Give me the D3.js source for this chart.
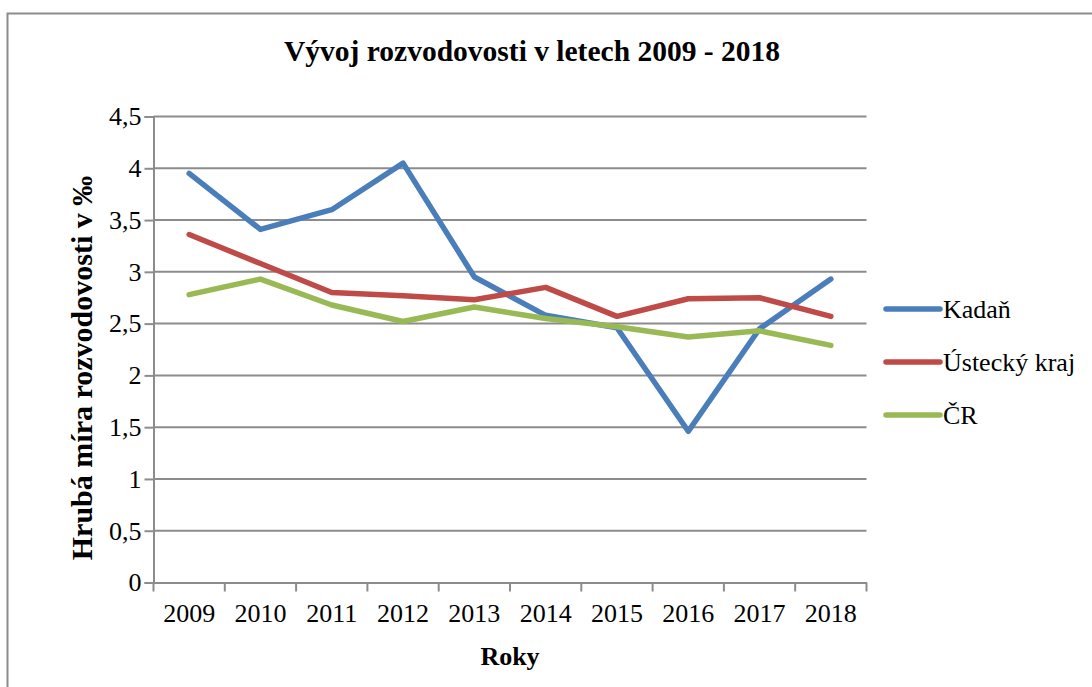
<!DOCTYPE html>
<html lang="cs">
<head>
<meta charset="UTF-8">
<title>Vývoj rozvodovosti v letech 2009 - 2018</title>
<script src="https://cdnjs.cloudflare.com/ajax/libs/d3/7.8.5/d3.min.js"></script>
<style>
    body { margin: 0; padding: 0; background: #fff; }
    svg text { font-family: "Liberation Serif", "DejaVu Serif", serif !important; fill: #000; }
</style>
</head>
<body>
<div id="chart"></div>
<script>
    // data
    const years = ["2009", "2010", "2011", "2012", "2013", "2014", "2015", "2016", "2017", "2018"];
    const kadan = [3.95, 3.41, 3.60, 4.05, 2.95, 2.58, 2.46, 1.46, 2.45, 2.93];
    const ustecky = [3.36, 3.08, 2.80, 2.77, 2.73, 2.85, 2.57, 2.74, 2.75, 2.57];
    const cr = [2.78, 2.93, 2.68, 2.52, 2.66, 2.55, 2.47, 2.37, 2.43, 2.29];
    const yTicks = [0, 0.5, 1, 1.5, 2, 2.5, 3, 3.5, 4, 4.5];

    const series = [
        { name: "Kadaň", values: kadan, color: "#4a7ebb" },
        { name: "Ústecký kraj", values: ustecky, color: "#be4b48" },
        { name: "ČR", values: cr, color: "#98b954" }
    ];

    const width = 1092, height = 687;
    const plot = { left: 153.5, right: 866.5, top: 116.5, bottom: 582.5 };

    const svg = d3.select("#chart").append("svg")
        .attr("width", width)
        .attr("height", height)
        .style("display", "block");

    // outer frame, runs off the right and bottom edge
    svg.append("rect")
        .attr("x", 7.5).attr("y", 13.5)
        .attr("width", 1100).attr("height", 700)
        .attr("fill", "#fff")
        .attr("stroke", "#8c8c8c")
        .attr("stroke-width", 2);

    const x = d3.scaleBand().domain(years).range([plot.left, plot.right]);
    const y = d3.scaleLinear().domain([0, 4.5]).range([plot.bottom, plot.top]);
    const fmt = d => String(d).replace(".", ",");

    // gridlines
    svg.append("g")
        .selectAll("line")
        .data(yTicks.filter(d => d > 0))
        .enter().append("line")
        .attr("x1", plot.left).attr("x2", plot.right)
        .attr("y1", d => y(d)).attr("y2", d => y(d))
        .attr("stroke", "#8c8c8c")
        .attr("stroke-width", 2);

    // y axis
    const yAxis = svg.append("g")
        .attr("transform", `translate(${plot.left},0)`)
        .call(d3.axisLeft(y).tickValues(yTicks).tickFormat(fmt).tickSize(9).tickPadding(3));
    yAxis.select(".domain").attr("stroke", "#8c8c8c").attr("stroke-width", 2);
    yAxis.selectAll(".tick line").attr("stroke", "#8c8c8c").attr("stroke-width", 2);
    yAxis.selectAll("text").attr("font-size", 26);

    // x axis: ticks between categories
    const xAxis = svg.append("g")
        .attr("transform", `translate(0,${plot.bottom})`)
        .call(d3.axisBottom(x).tickSize(0).tickPadding(21));
    xAxis.select(".domain").attr("stroke", "#8c8c8c").attr("stroke-width", 2);
    xAxis.selectAll("text").attr("font-size", 26);
    xAxis.selectAll(".sep")
        .data(years.concat(["end"]))
        .enter().append("line")
        .attr("class", "sep")
        .attr("x1", (d, i) => i < years.length ? x(d) : plot.right)
        .attr("x2", (d, i) => i < years.length ? x(d) : plot.right)
        .attr("y1", 0).attr("y2", 9)
        .attr("stroke", "#8c8c8c")
        .attr("stroke-width", 2);

    // lines
    const line = d3.line()
        .x((d, i) => x(years[i]) + x.bandwidth() / 2)
        .y(d => y(d));

    svg.append("g")
        .selectAll("path")
        .data(series)
        .enter().append("path")
        .attr("d", d => line(d.values))
        .attr("fill", "none")
        .attr("stroke", d => d.color)
        .attr("stroke-width", 5.5)
        .attr("stroke-linejoin", "round")
        .attr("stroke-linecap", "round");

    // legend
    const legend = svg.append("g")
        .selectAll("g")
        .data(series)
        .enter().append("g")
        .attr("transform", (d, i) => `translate(886,${309 + i * 53})`);
    legend.append("line")
        .attr("x1", 0).attr("x2", 54)
        .attr("stroke", d => d.color)
        .attr("stroke-width", 5.5)
        .attr("stroke-linecap", "round");
    legend.append("text")
        .attr("x", 57).attr("dy", "0.35em")
        .attr("font-size", 26)
        .text(d => d.name);

    // titles
    svg.append("text")
        .attr("x", 532).attr("y", 61)
        .attr("text-anchor", "middle")
        .attr("font-size", 29.5)
        .attr("font-weight", "bold")
        .text("Vývoj rozvodovosti v letech 2009 - 2018");

    svg.append("text")
        .attr("x", 510).attr("y", 665)
        .attr("text-anchor", "middle")
        .attr("font-size", 26)
        .attr("font-weight", "bold")
        .text("Roky");

    svg.append("text")
        .attr("transform", "translate(92,368) rotate(-90)")
        .attr("text-anchor", "middle")
        .attr("font-size", 30)
        .attr("font-weight", "bold")
        .text("Hrubá míra rozvodovosti v ‰");
</script>
</body>
</html>
